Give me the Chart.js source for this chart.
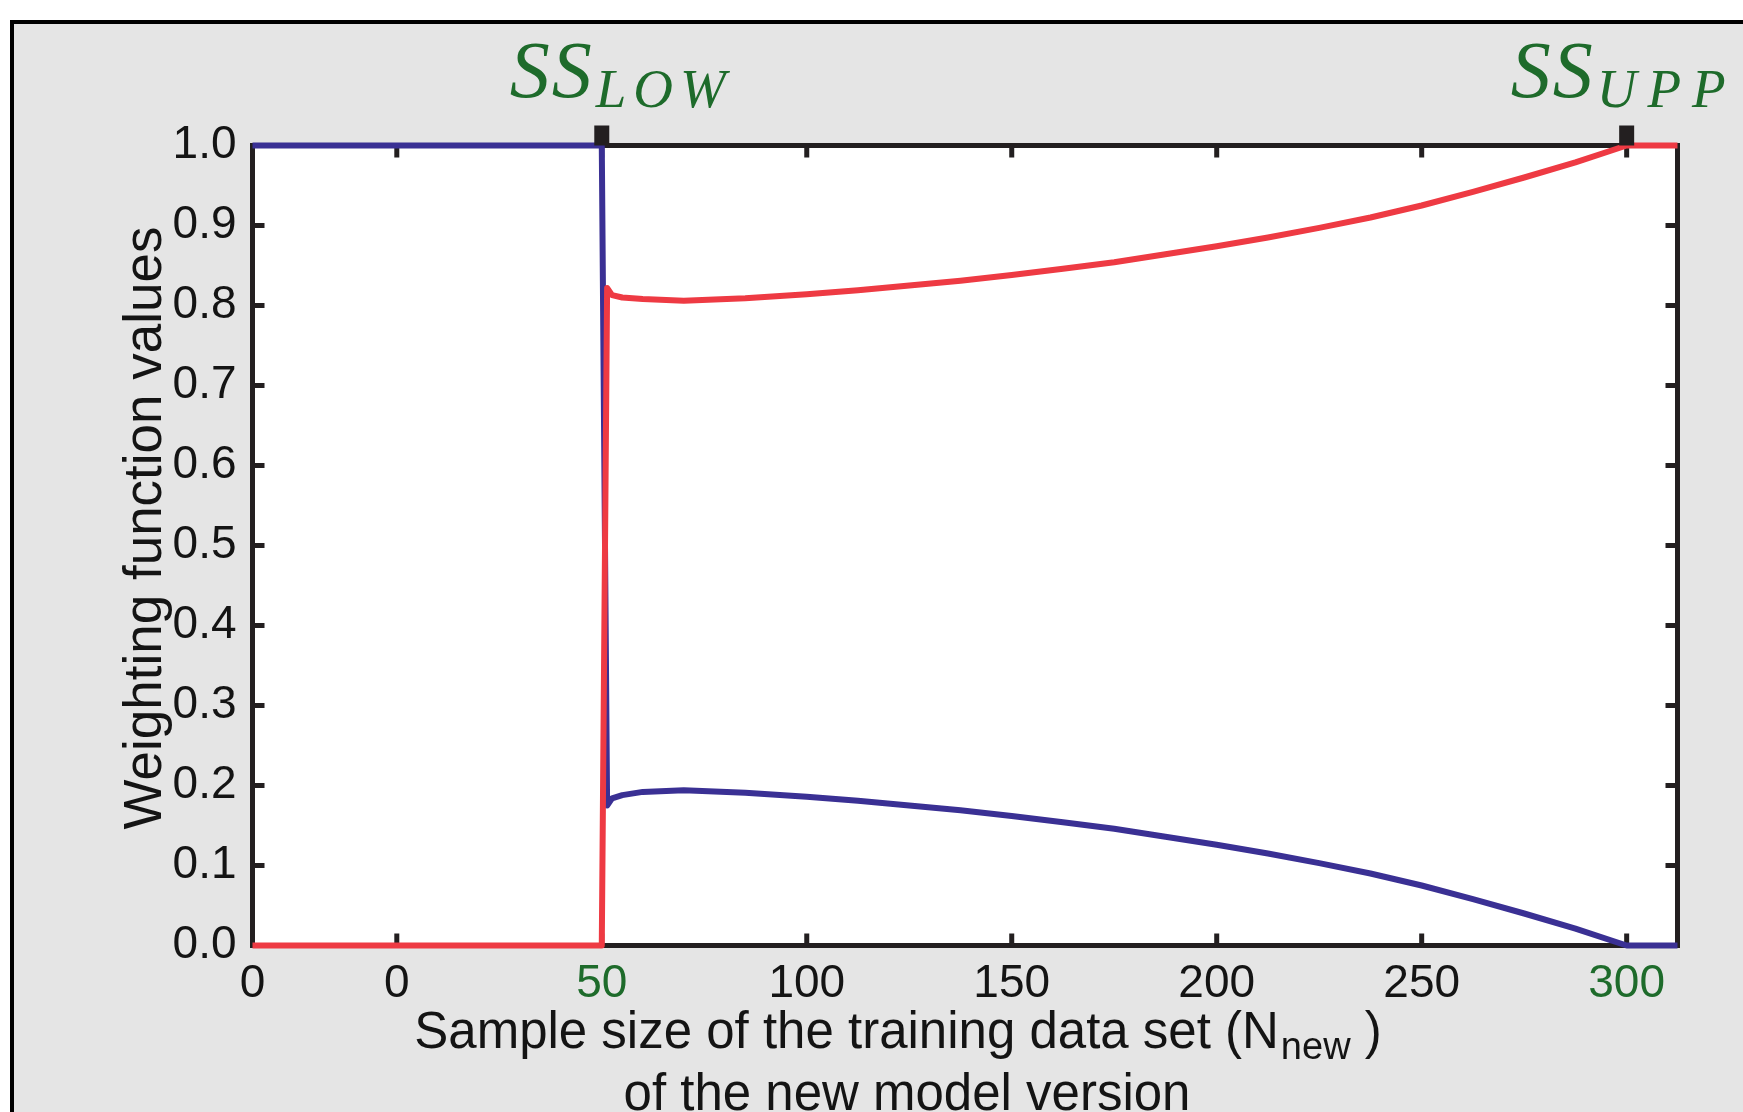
<!DOCTYPE html>
<html>
<head>
<meta charset="utf-8">
<script src="https://cdn.jsdelivr.net/npm/chart.js@4.4.1/dist/chart.umd.min.js"></script>
<style>
  html, body { margin: 0; padding: 0; background: #fff; }
  canvas { display: block; }
</style>
</head>
<body>
<canvas id="weightChart" width="1743" height="1112"></canvas>
<script>
const sampleSize = [-35.2, 50, 51.3, 52.5, 55, 60, 70, 85, 100, 112.5, 125, 137.5, 150, 162.5, 175, 187.5, 200, 212.5, 225, 237.5, 250, 262.5, 275, 287.5, 300, 312.4];
// weight of the old model version (blue) and of the new one (red)
const weightOld = [1, 1, 0.175, 0.184, 0.188, 0.192, 0.194, 0.191, 0.186, 0.181, 0.175, 0.169, 0.162, 0.154, 0.146, 0.136, 0.126, 0.115, 0.103, 0.090, 0.075, 0.058, 0.040, 0.021, 0, 0];
const weightNew = [0, 0, 0.822, 0.813, 0.810, 0.808, 0.806, 0.809, 0.814, 0.819, 0.825, 0.831, 0.838, 0.846, 0.854, 0.864, 0.874, 0.885, 0.897, 0.910, 0.925, 0.942, 0.960, 0.979, 1, 1];

const xTickValues = [-35.2, 0, 50, 100, 150, 200, 250, 300];
const xTickLabels = ['0', '0', '50', '100', '150', '200', '250', '300'];
const yTickValues = [0, 0.1, 0.2, 0.3, 0.4, 0.5, 0.6, 0.7, 0.8, 0.9, 1.0];

// sample size limits marked on the top axis
const ssLimits = [50, 300];
const ssNames = ['LOW', 'UPP'];

const GREEN = '#1e6b2b';
const INK = '#141414';
const AXIS = '#231f20';
const NARROW = "'Liberation Sans Narrow', 'Liberation Sans', sans-serif";

const toPoints = ys => sampleSize.map((x, i) => ({ x: x, y: ys[i] }));

// background, box, inward ticks, SS markers and the axis titles
const framePlugin = {
  id: 'frame',
  beforeDraw(chart) {
    const { ctx, width, height, chartArea: a } = chart;
    ctx.save();
    ctx.fillStyle = '#fff';
    ctx.fillRect(0, 0, width, height);
    ctx.fillStyle = '#e5e5e5';
    ctx.fillRect(12, 22, width, height);
    ctx.strokeStyle = '#000';
    ctx.lineWidth = 4;
    ctx.beginPath();
    ctx.moveTo(12, height + 10);
    ctx.lineTo(12, 22);
    ctx.lineTo(width + 10, 22);
    ctx.stroke();
    ctx.fillStyle = '#fff';
    ctx.fillRect(a.left, a.top, a.right - a.left, a.bottom - a.top);
    ctx.restore();
  },
  beforeDatasetsDraw(chart) {
    const { ctx, chartArea: a, scales: { x, y } } = chart;
    const len = 12;
    ctx.save();
    ctx.strokeStyle = AXIS;
    ctx.lineWidth = 5;
    ctx.strokeRect(a.left, a.top, a.right - a.left, a.bottom - a.top);
    ctx.beginPath();
    yTickValues.slice(1, -1).forEach(v => {
      const py = y.getPixelForValue(v);
      ctx.moveTo(a.left, py); ctx.lineTo(a.left + len, py);
      ctx.moveTo(a.right, py); ctx.lineTo(a.right - len, py);
    });
    xTickValues.slice(1).forEach(v => {
      const px = x.getPixelForValue(v);
      ctx.moveTo(px, a.bottom); ctx.lineTo(px, a.bottom - len);
      ctx.moveTo(px, a.top); ctx.lineTo(px, a.top + len);
    });
    ctx.stroke();

    // y axis title
    ctx.save();
    ctx.translate(146, 528);
    ctx.rotate(-Math.PI / 2);
    ctx.fillStyle = INK;
    ctx.font = "53px 'Liberation Sans', sans-serif";
    ctx.textAlign = 'center';
    ctx.textBaseline = 'middle';
    ctx.fillText('Weighting function values', 0, 0);
    ctx.restore();
    ctx.restore();
  },
  afterDraw(chart) {
    const { ctx, chartArea: a, scales: { x } } = chart;
    ctx.save();
    // black markers + SS labels
    const labelShift = [-92, -116];
    ssLimits.forEach((v, i) => {
      const px = x.getPixelForValue(v);
      ctx.fillStyle = AXIS;
      ctx.fillRect(px - 7.5, a.top - 20, 15, 20);
      ctx.fillStyle = GREEN;
      ctx.textBaseline = 'alphabetic';
      ctx.textAlign = 'left';
      ctx.font = "italic 80px 'Liberation Serif', serif";
      ctx.letterSpacing = '2px';
      const sx = px + labelShift[i];
      ctx.fillText('SS', sx, 97);
      const w = ctx.measureText('SS').width;
      ctx.font = "italic 55px 'Liberation Serif', serif";
      ctx.letterSpacing = i === 0 ? '7px' : '11px';
      ctx.fillText(ssNames[i], sx + w + 2, 107);
    });
    ctx.letterSpacing = '0px';

    // x axis title with the N_new subscript
    ctx.fillStyle = INK;
    ctx.textAlign = 'left';
    ctx.textBaseline = 'alphabetic';
    const mainFont = '51px ' + NARROW;
    const subFont = '38px ' + NARROW;
    const p1 = 'Sample size of the training data set (N';
    const p2 = 'new';
    const p3 = ' )';
    ctx.font = mainFont;
    const w1 = ctx.measureText(p1).width;
    const w3 = ctx.measureText(p3).width;
    ctx.font = subFont;
    const w2 = ctx.measureText(p2).width;
    const cx = (a.left + a.right) / 2;
    const sx = cx - 68 - (w1 + w2 + w3) / 2;
    ctx.font = mainFont;
    ctx.fillText(p1, sx, 1048);
    ctx.font = subFont;
    ctx.fillText(p2, sx + w1 + 2, 1059);
    ctx.font = mainFont;
    ctx.fillText(p3, sx + w1 + w2 + 2, 1048);
    ctx.textAlign = 'center';
    ctx.fillText('of the new model version', cx - 58, 1110);
    ctx.restore();
  }
};

const ctx = document.getElementById('weightChart');

new Chart(ctx, {
  type: 'scatter',
  data: {
    datasets: [
      {
        label: 'new model',
        data: toPoints(weightNew),
        borderColor: '#ee3a43',
        borderWidth: 6,
        showLine: true,
        pointRadius: 0,
        tension: 0,
        borderJoinStyle: 'round',
        clip: false
      },
      {
        label: 'old model',
        data: toPoints(weightOld),
        borderColor: '#3a3094',
        borderWidth: 6,
        showLine: true,
        pointRadius: 0,
        tension: 0,
        borderJoinStyle: 'round',
        clip: false
      }
    ]
  },
  options: {
    responsive: false,
    animation: false,
    devicePixelRatio: 1,
    layout: { padding: { left: 0, right: 65.5, top: 145.5, bottom: 0 } },
    plugins: {
      legend: { display: false },
      tooltip: { enabled: false }
    },
    scales: {
      x: {
        type: 'linear',
        min: -35.2,
        max: 312.4,
        grid: { display: false },
        border: { display: false },
        afterBuildTicks: s => { s.ticks = xTickValues.map(v => ({ value: v })); },
        afterFit: s => { s.height = 1112 - 945.5; },
        ticks: {
          autoSkip: false,
          maxRotation: 0,
          padding: 3,
          font: { family: NARROW, size: 46 },
          color: c => ssLimits.includes(c.tick.value) ? GREEN : INK,
          callback: (v, i) => xTickLabels[i]
        }
      },
      y: {
        min: 0,
        max: 1,
        grid: { display: false },
        border: { display: false },
        afterBuildTicks: s => { s.ticks = yTickValues.map(v => ({ value: v })); },
        afterFit: s => { s.width = 252.5; },
        ticks: {
          padding: 8,
          font: { family: NARROW, size: 46 },
          color: INK,
          callback: v => v.toFixed(1)
        }
      }
    }
  },
  plugins: [framePlugin]
});
</script>
</body>
</html>
